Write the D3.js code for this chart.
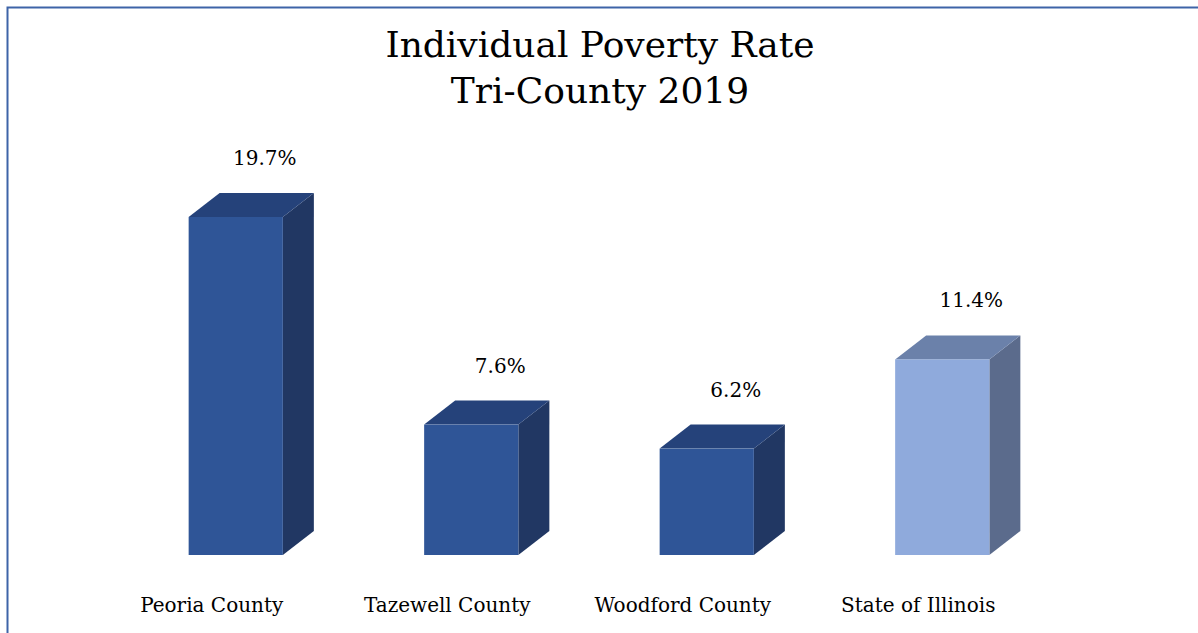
<!DOCTYPE html>
<html><head><meta charset="utf-8">
<script src="https://cdn.jsdelivr.net/npm/d3@7"></script>
<style>body{margin:0;background:#fff}svg{display:block}</style>
</head><body>
<svg id="c" width="1198" height="633"></svg>
<script>
const categories = ["Peoria County","Tazewell County","Woodford County","State of Illinois"];
const values = [19.7, 7.6, 6.2, 11.4];
const valueLabels = ["19.7%","7.6%","6.2%","11.4%"];
const titleLines = ["Individual Poverty Rate","Tri-County 2019"];

const W = 1198, H = 633;
const svg = d3.select("#c");
svg.append("rect").attr("x",7.5).attr("y",7.5).attr("width",W+20).attr("height",H+20)
  .attr("fill","#fff").attr("stroke","#3E64A8").attr("stroke-width",2);

const font = "'DejaVu Serif',serif";
const x = d3.scaleBand().domain(categories).range([118, 1060]).paddingInner(0.6).paddingOuter(0.3);
const y = d3.scaleLinear().domain([0, 19.7]).range([555, 217]);
const dx = 31, dy = 24;
const cols = [
  {front:"#2F5597", side:"#213763", top:"#25427A"},
  {front:"#2F5597", side:"#213763", top:"#25427A"},
  {front:"#2F5597", side:"#213763", top:"#25427A"},
  {front:"#8FAADC", side:"#5B6B8C", top:"#6B81AA"}
];

const g = svg.append("g");
categories.forEach((c,i)=>{
  const x0 = x(c), w = x.bandwidth(), yt = y(values[i]), yb = y(0);
  g.append("path").attr("d",`M${x0+w},${yt}L${x0+w+dx},${yt-dy}L${x0+w+dx},${yb-dy}L${x0+w},${yb}Z`).attr("fill",cols[i].side);
  g.append("path").attr("d",`M${x0},${yt}L${x0+dx},${yt-dy}L${x0+w+dx},${yt-dy}L${x0+w},${yt}Z`).attr("fill",cols[i].top);
  g.append("rect").attr("x",x0).attr("y",yt).attr("width",w).attr("height",yb-yt).attr("fill",cols[i].front);
  g.append("text").attr("x",x0+w/2+29).attr("y",yt-dy-28).attr("text-anchor","middle")
    .attr("font-family",font).attr("font-size",20).attr("fill","#000").text(valueLabels[i]);
  g.append("text").attr("x",x0+w/2-24).attr("y",612).attr("text-anchor","middle")
    .attr("font-family",font).attr("font-size",20).attr("fill","#000").text(c);
});

svg.selectAll("text.title").data(titleLines).enter().append("text")
  .attr("class","title").attr("x",600).attr("y",(d,i)=>57+i*46).attr("text-anchor","middle")
  .attr("font-family",font).attr("font-size",36).attr("fill","#000").text(d=>d);
</script>
</body></html>
